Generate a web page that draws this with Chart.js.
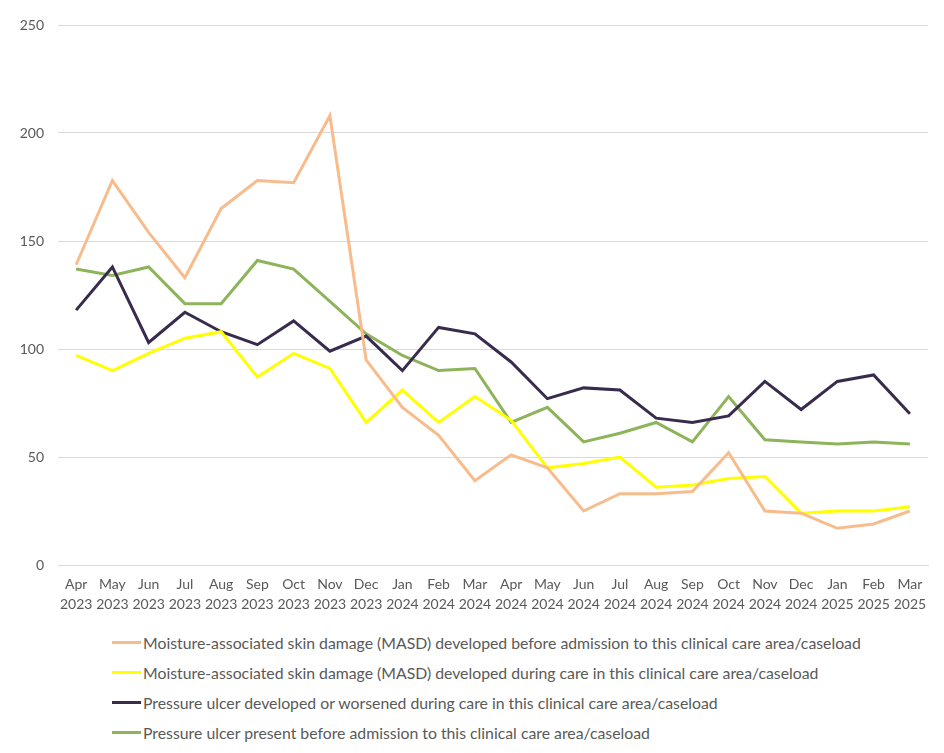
<!DOCTYPE html>
<html>
<head>
<meta charset="utf-8">
<script src="https://cdn.jsdelivr.net/npm/chart.js@4"></script>
<style>
  body { margin: 0; background: #fff; }
  #wrap { position: relative; width: 944px; height: 753px; }
  #box { position: absolute; left: 0; top: 0; width: 944px; height: 625px; }
  #legend { position: absolute; left: 112px; top: 627px; font: 15.8px Lato, "Liberation Sans", Arial, sans-serif; color: #595959; }
  #legend div { height: 30px; display: flex; align-items: center; white-space: nowrap; }
  #legend span.ln { display: inline-block; width: 29px; height: 3px; margin-right: 2px; }
</style>
</head>
<body>
<div id="wrap">
  <div id="box"><canvas id="myLineChart"></canvas></div>
  <div id="legend"></div>
</div>
<script>
var months = [
    ["Apr", "2023"], ["May", "2023"], ["Jun", "2023"], ["Jul", "2023"],
    ["Aug", "2023"], ["Sep", "2023"], ["Oct", "2023"], ["Nov", "2023"],
    ["Dec", "2023"], ["Jan", "2024"], ["Feb", "2024"], ["Mar", "2024"],
    ["Apr", "2024"], ["May", "2024"], ["Jun", "2024"], ["Jul", "2024"],
    ["Aug", "2024"], ["Sep", "2024"], ["Oct", "2024"], ["Nov", "2024"],
    ["Dec", "2024"], ["Jan", "2025"], ["Feb", "2025"], ["Mar", "2025"],
];

// MASD developed before admission
var masdBefore = [139, 178, 154, 133, 165, 178, 177, 208, 95, 73, 60, 39,
                  51, 45, 25, 33, 33, 34, 52, 25, 24, 17, 19, 25];
// MASD developed during care
var masdDuring = [97, 90, 98, 105, 108, 87, 98, 91, 66, 81, 66, 78,
                  67, 45, 47, 50, 36, 37, 40, 41, 24, 25, 25, 27];
// pressure ulcer developed or worsened during care
var puDuring = [118, 138, 103, 117, 108, 102, 113, 99, 106, 90, 110, 107,
                94, 77, 82, 81, 68, 66, 69, 85, 72, 85, 88, 70];
// pressure ulcer present before admission
var puBefore = [137, 134, 138, 121, 121, 141, 137, 122, 107, 97, 90, 91,
                66, 73, 57, 61, 66, 57, 78, 58, 57, 56, 57, 56];

var yTicks = [0, 50, 100, 150, 200, 250];

var seriesNames = [
    "Moisture-associated skin damage (MASD) developed before admission to this clinical care area/caseload",
    "Moisture-associated skin damage (MASD) developed during care in this clinical care area/caseload",
    "Pressure ulcer developed or worsened during care in this clinical care area/caseload",
    "Pressure ulcer present before admission to this clinical care area/caseload",
];
var seriesColors = ['#F8BC8C', '#FFFF00', '#382B4D', '#8DB45A'];
var seriesData = [masdBefore, masdDuring, puDuring, puBefore];

var font = "Lato, 'Liberation Sans', Arial, sans-serif";
var ctx = document.getElementById('myLineChart').getContext('2d');
var chart = new Chart(ctx, {
    type: 'line',
    data: {
        labels: months,
        datasets: seriesData.map(function (d, i) {
            return {
                label: seriesNames[i],
                data: d,
                borderColor: seriesColors[i],
                backgroundColor: seriesColors[i],
                borderWidth: 3,
                pointRadius: 0,
                tension: 0,
                fill: false,
            };
        })
    },
    options: {
        responsive: true,
        maintainAspectRatio: false,
        animation: false,
        layout: { padding: { top: 25, right: 16, bottom: 5, left: 0 } },
        plugins: {
            legend: { display: false },
            tooltip: { enabled: false },
        },
        scales: {
            x: {
                offset: true,
                grid: { display: false, drawTicks: false },
                border: { display: true, color: '#D9D9D9' },
                ticks: {
                    autoSkip: false, maxRotation: 0, padding: 10,
                    color: '#595959',
                    font: { family: font, size: 14, lineHeight: 1.4 },
                },
                afterFit: function (s) { s.height = 55; },
            },
            y: {
                min: 0, max: 250,
                afterBuildTicks: function (s) {
                    s.ticks = yTicks.map(function (v) { return { value: v }; });
                },
                grid: { color: '#D9D9D9', drawTicks: false },
                border: { display: false },
                ticks: {
                    padding: 14, color: '#595959',
                    font: { family: font, size: 14 },
                },
                afterFit: function (s) { s.width = 58; },
            }
        }
    }
});

// legend below the chart, one series per row
var lg = document.getElementById('legend');
seriesNames.forEach(function (name, i) {
    var row = document.createElement('div');
    var ln = document.createElement('span');
    ln.className = 'ln';
    ln.style.background = seriesColors[i];
    row.appendChild(ln);
    row.appendChild(document.createTextNode(name));
    lg.appendChild(row);
});
</script>
</body>
</html>
